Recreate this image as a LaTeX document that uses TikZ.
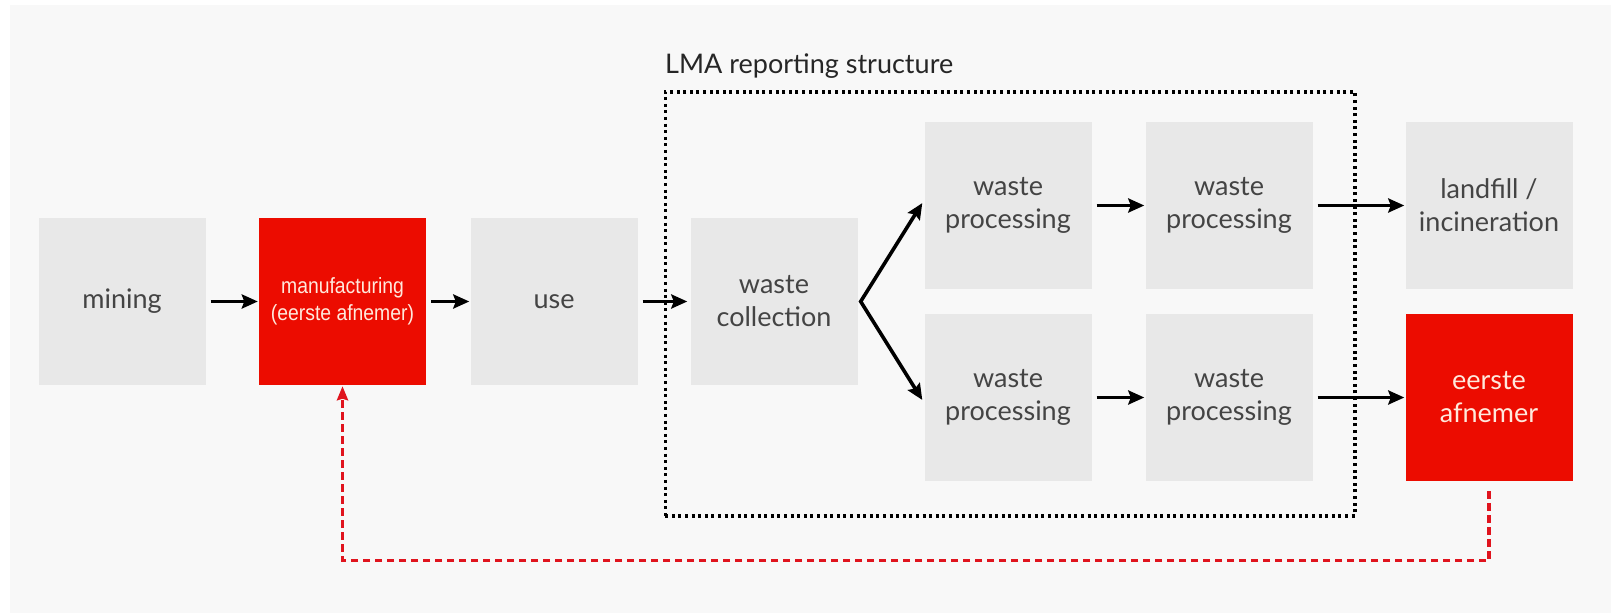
\documentclass[tikz,border=0pt]{standalone}
\usepackage{fontspec}
\setmainfont{Lato}
\newfontfamily\narrowfont[FakeStretch=0.88]{Liberation Sans}
\usetikzlibrary{arrows.meta}
\definecolor{panel}{HTML}{F8F8F8}
\definecolor{boxgray}{HTML}{E8E8E8}
\definecolor{boxred}{HTML}{EC0C00}
\definecolor{txtgray}{HTML}{444444}
\definecolor{dashred}{HTML}{E0141E}
\definecolor{cream}{HTML}{FFE9DC}
\begin{document}
\begin{tikzpicture}[x=1pt,y=-1pt,
  graybox/.style={fill=boxgray, minimum width=167pt, minimum height=167pt, inner sep=0pt,
    text=txtgray, align=center, font=\fontsize{27}{33}\selectfont},
  redbox/.style={graybox, fill=boxred, text=cream},
  flowline/.style={line width=3.6pt},
  tip/.tip={Stealth[length=16pt,width=14pt,inset=2.5pt]},
  flow/.style={flowline, shorten <=5pt, shorten >=1pt, -tip},
  ret/.style={draw=dashred, line width=3.2pt, dash pattern=on 7.5pt off 4.5pt,
    -{Stealth[length=14pt,width=11pt,inset=1.5pt]}},
  dotbox/.style={draw=black, line width=3.5pt, dash pattern=on 3pt off 3.6pt, inner sep=0pt}
]
\useasboundingbox (0,0) rectangle (1611,613);
\fill[white] (0,0) rectangle (1611,613);
\fill[panel] (10,5) rectangle (1611,613);

\node[graybox] (mining) at (122,301.5) {mining};
\node[redbox, font=\narrowfont\fontsize{22}{27}\selectfont] (manuf) at (342.5,301.5) {manufacturing\\(eerste afnemer)};
\node[graybox] (use) at (554,301.5) {use};
\node[graybox] (wc) at (774,301.5) {waste\\collection};
\node[graybox] (wpT1) at (1008,205.5) {waste\\processing};
\node[graybox] (wpT2) at (1229,205.5) {waste\\processing};
\node[graybox] (landfill) at (1489,205.5) {landfill /\\incineration};
\node[graybox] (wpB1) at (1008,397.5) {waste\\processing};
\node[graybox] (wpB2) at (1229,397.5) {waste\\processing};
\node[redbox] (eerste) at (1489,397.5) {eerste\\afnemer};

\draw[flow] (mining) -- (manuf);
\draw[flow] (manuf) -- (use);
\draw[flow, shorten >=3pt] (use) -- (wc);
\coordinate (split) at ([xshift=3pt]wc.east);
\draw[flowline, tip-tip]
  ([xshift=-2pt,yshift=2.5pt]wpT1.west) -- (split) -- ([xshift=-2pt,yshift=-2.5pt]wpB1.west);
\draw[flow] (wpT1) -- (wpT2);
\draw[flow] (wpB1) -- (wpB2);
\draw[flow] (wpT2) -- (landfill);
\draw[flow] (wpB2) -- (eerste);

\draw[ret] ([yshift=-10pt]eerste.south) |- ([yshift=-175pt]manuf.south) -- ([yshift=-1pt]manuf.south);

\node[dotbox, minimum width=689.5pt, minimum height=424pt, anchor=north west] (lma) at (663.5,90) {};
\node[anchor=base west, inner sep=0pt, text=black!85, font=\fontsize{27}{32}\selectfont] (lmalabel) at (665,73) {LMA reporting structure};
\end{tikzpicture}
\end{document}
